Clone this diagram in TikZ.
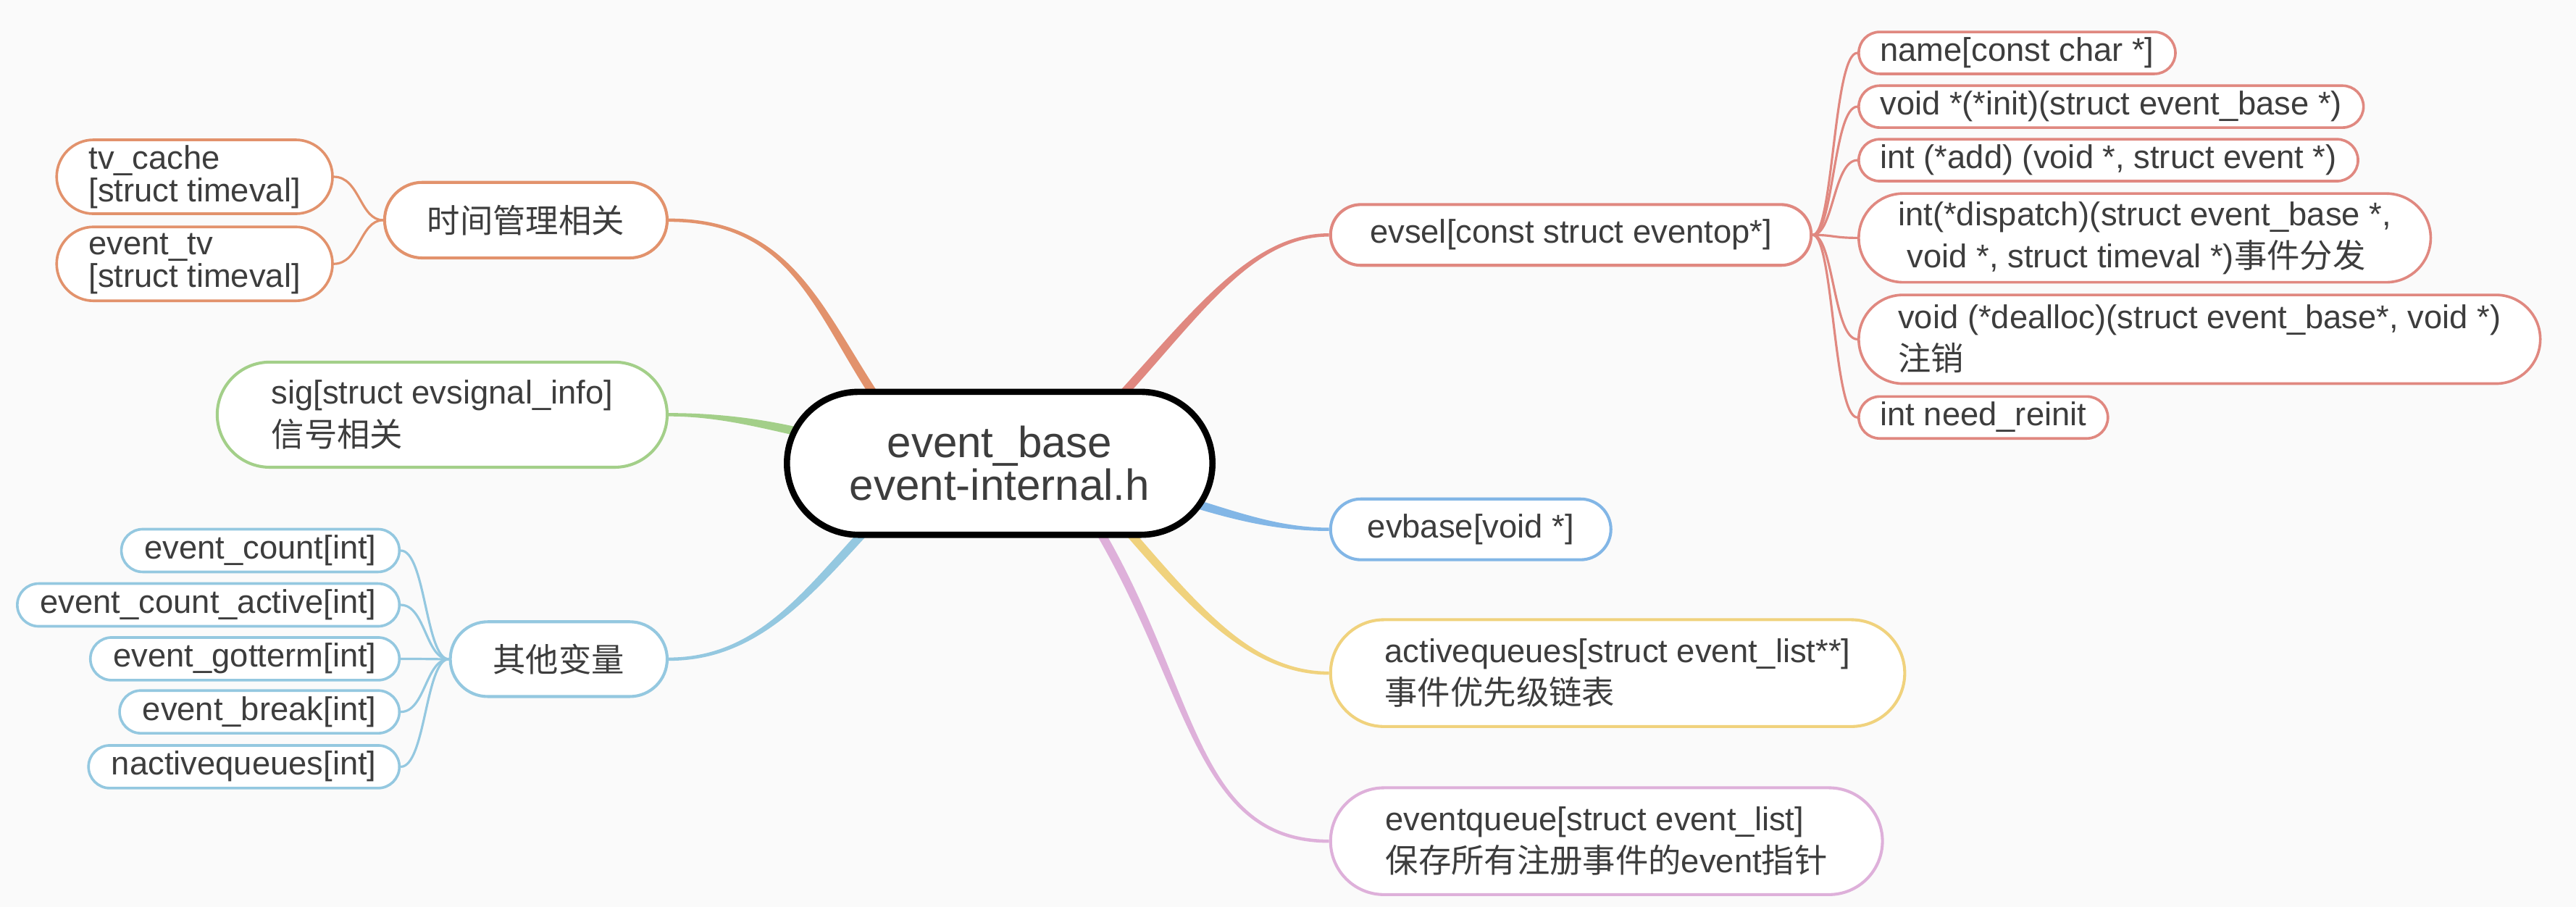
\documentclass[tikz,border=0pt]{standalone}
\usepackage{fontspec}
\setmainfont{Liberation Sans}
\newfontfamily\cjk{Noto Sans CJK SC}
\usetikzlibrary{calc}
\definecolor{bgc}{RGB}{250,250,250}
\definecolor{txt}{RGB}{61,61,61}
\definecolor{corange}{RGB}{226,146,108}
\definecolor{cred}{RGB}{224,136,128}
\definecolor{cgreen}{RGB}{163,207,137}
\definecolor{cblue}{RGB}{130,182,230}
\definecolor{clblue}{RGB}{148,200,224}
\definecolor{cyellow}{RGB}{240,210,125}
\definecolor{cpink}{RGB}{222,176,218}
\pgfdeclarelayer{back}
\pgfdeclarelayer{bg}
\pgfsetlayers{back,bg,main}
% tapered main connector: #1 colour, #2 start (inside root), #3 control 1, #4 control 2, #5 end node anchor
\newcommand\mainlink[5]{%
 \begin{pgfonlayer}{bg}
 \fill[#1] ($(#2)!2.6pt!90:(#3)$) .. controls ($(#3)+(#2)!2.6pt!90:(#3)-(#2)$) and ($(#4)+(#5)!1pt!-90:(#4)-(#5)$) .. ($(#5)!1pt!-90:(#4)$)
   -- ($(#5)!1pt!90:(#4)$) .. controls ($(#4)+(#5)!1pt!90:(#4)-(#5)$) and ($(#3)+(#2)!2.6pt!-90:(#3)-(#2)$) .. ($(#2)!2.6pt!-90:(#3)$) -- cycle;
 \end{pgfonlayer}}
\begin{document}
\begin{tikzpicture}[x=1pt,y=-1pt,
  every node/.style={text=txt, font=\fontsize{20}{24}\selectfont, inner ysep=0pt, fill=white, rectangle},
  lone/.style={draw=#1, line width=1.8pt},
  ltwo/.style={draw=#1, line width=1.6pt},
  oneline/.style={text height=14.6pt, text depth=4.4pt},
  cjkline/.style={text height=17.6pt, text depth=2.4pt},
  twolines/.style={align=left, font=\fontsize{20}{25.6}\selectfont},
  twolat/.style={align=left, font=\fontsize{20}{20}\selectfont},
  clink/.style={draw=#1, line width=1.4pt},
]
\begin{pgfonlayer}{back}
\fill[bgc] (0,0) rectangle (1568,552);
\end{pgfonlayer}
\useasboundingbox (0,0) rectangle (1568,552);

% root
\node[draw=black, line width=3.8pt, rounded corners=43.5pt, minimum width=259pt, minimum height=87pt,
      inner sep=0pt, align=center, font=\fontsize{26.5}{26}\selectfont] (root) at (608.5,282) {event\_base\\event-internal.h};

% right level 1
\node[lone=cred, oneline, anchor=west, minimum height=37pt, rounded corners=18.5pt, inner xsep=24pt] (evsel) at (809,143) {evsel[const struct eventop*]};
\node[lone=cblue, oneline, anchor=west, minimum height=37pt, rounded corners=18.5pt, inner xsep=22.5pt] (evbase) at (809,322.2) {evbase[void *]};
\node[lone=cyellow, twolines, anchor=west, minimum height=65pt, rounded corners=32.5pt, inner xsep=33pt] (actq) at (809,409.7) {activequeues[struct event\_list**]\\{\cjk 事件优先级链表}};
\node[lone=cpink, twolines, anchor=west, minimum height=65pt, rounded corners=32.5pt, inner xsep=33.5pt] (evq) at (809,512) {eventqueue[struct event\_list]\\{\cjk 保存所有注册事件的}event{\cjk 指针}};

% left level 1
\node[lone=corange, cjkline, anchor=east, minimum height=46pt, rounded corners=23pt, inner xsep=26pt] (time) at (407,134) {\cjk 时间管理相关};
\node[lone=cgreen, twolines, anchor=east, minimum height=64pt, rounded corners=32pt, inner xsep=33pt] (sig) at (407,252.4) {sig[struct evsignal\_info]\\{\cjk 信号相关}};
\node[lone=clblue, cjkline, anchor=east, minimum height=45.5pt, rounded corners=22.75pt, inner xsep=26pt] (other) at (407,401.2) {\cjk 其他变量};

% children of time
\node[ltwo=corange, twolat, anchor=east, minimum height=45pt, rounded corners=22.5pt, inner xsep=19.5pt] (tvc) at (203.2,107.6) {tv\_cache\\{[}struct timeval]};
\node[ltwo=corange, twolat, anchor=east, minimum height=45pt, rounded corners=22.5pt, inner xsep=19.5pt] (evtv) at (203.2,160.6) {event\_tv\\{[}struct timeval]};

% children of other
\foreach \n/\y/\t in {o1/335.1/event\_count[int], o2/368.2/event\_count\_active[int], o3/401/event\_gotterm[int], o4/433.3/event\_break[int], o5/466.7/nactivequeues[int]}{
  \node[ltwo=clblue, oneline, anchor=east, minimum height=26pt, rounded corners=13pt, inner xsep=14pt] (\n) at (243.9,\y) {\t};
}

% children of evsel
\node[ltwo=cred, oneline, anchor=west, minimum height=25.5pt, rounded corners=12.75pt, inner xsep=13pt] (r1) at (1130.6,32.2) {name[const char *]};
\node[ltwo=cred, oneline, anchor=west, minimum height=25.5pt, rounded corners=12.75pt, inner xsep=13pt] (r2) at (1130.6,64.9) {void *(*init)(struct event\_base *)};
\node[ltwo=cred, oneline, anchor=west, minimum height=25.5pt, rounded corners=12.75pt, inner xsep=13pt] (r3) at (1130.6,97.5) {int (*add) (void *, struct event *)};
\node[ltwo=cred, twolines, anchor=west, minimum height=54pt, rounded corners=27pt, inner xsep=24pt] (r4) at (1130.6,144.8) {int(*dispatch)(struct event\_base *,\\\hspace*{5.56pt}void *, struct timeval *){\cjk 事件分发}};
\node[ltwo=cred, twolines, anchor=west, minimum height=54pt, rounded corners=27pt, inner xsep=24pt] (r5) at (1130.6,206.5) {void (*dealloc)(struct event\_base*, void *)\\{\cjk 注销}};
\node[ltwo=cred, oneline, anchor=west, minimum height=25.5pt, rounded corners=12.75pt, inner xsep=13pt] (r6) at (1130.6,254.1) {int need\_reinit};

% main connectors
\mainlink{corange}{532,240}{496.6,185.6}{480,134}{time.east}
\mainlink{cgreen}{485,262.6}{460,257}{435,252.4}{sig.east}
\mainlink{clblue}{526,323.8}{488.9,364.4}{459,401.2}{other.east}
\mainlink{cred}{683.6,239.7}{730.6,187.9}{763,143}{evsel.west}
\mainlink{cblue}{725.7,306}{755,315}{780,322.2}{evbase.west}
\mainlink{cyellow}{687,323.7}{729.6,372.8}{763,409.7}{actq.west}
\mainlink{cpink}{669.2,323.2}{727,422}{728,512}{evq.west}

% child connectors
\begin{pgfonlayer}{bg}
\draw[clink=corange] (time.west) .. controls (219,134) and (219,107.6) .. (tvc.east);
\draw[clink=corange] (time.west) .. controls (219,134) and (219,160.6) .. (evtv.east);
\foreach \n/\y in {o1/335.1, o2/368.2, o3/401, o4/433.3, o5/466.7}{
  \draw[clink=clblue] (other.west) .. controls (259,401.2) and (259,\y) .. (\n.east);
}
\foreach \n/\y in {r1/32.2, r2/64.9, r3/97.5, r4/144.8, r5/206.5, r6/254.1}{
  \draw[clink=cred] (evsel.east) .. controls (1116,143) and (1116,\y) .. (\n.west);
}
\end{pgfonlayer}
\end{tikzpicture}
\end{document}
